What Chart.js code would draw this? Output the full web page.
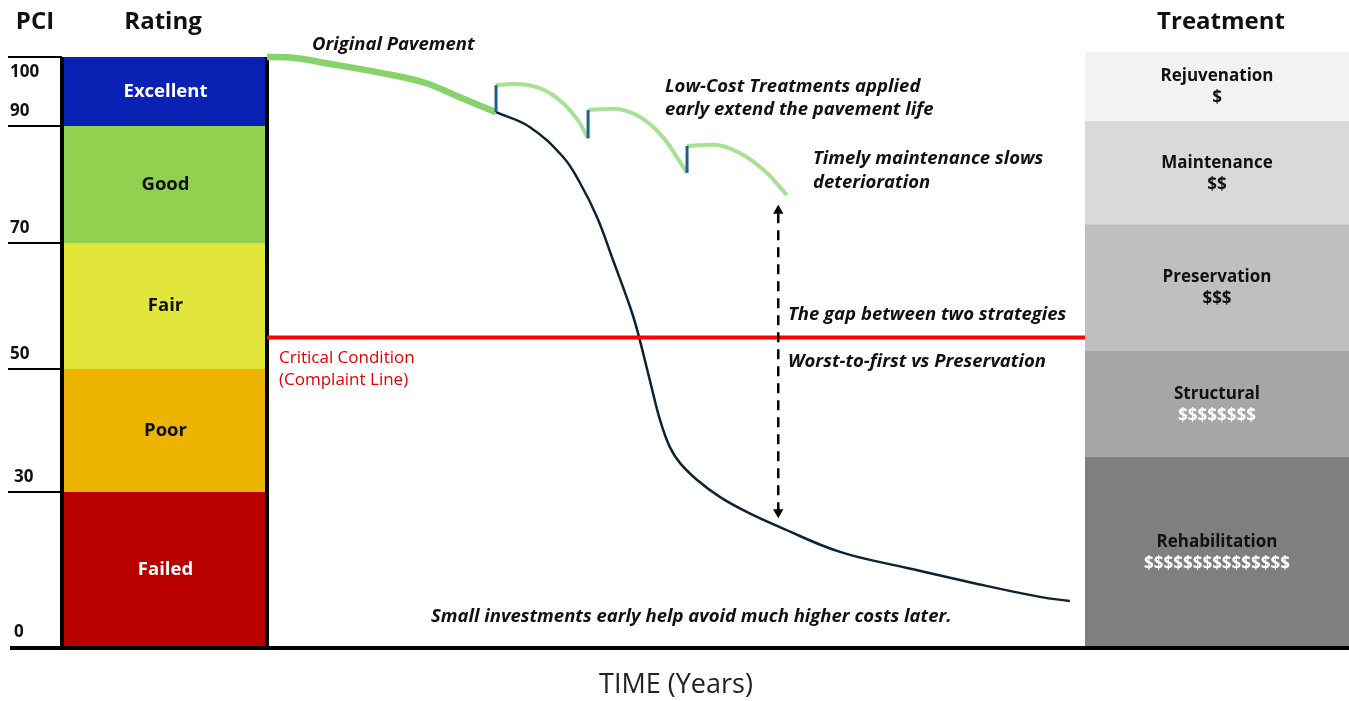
<!DOCTYPE html>
<html>
<head>
<meta charset="utf-8">
<title>Pavement condition over time</title>
<script src="https://cdn.jsdelivr.net/npm/chart.js@4.4.1/dist/chart.umd.min.js"></script>
<style>
    html, body { margin: 0; padding: 0; background: #fff; }
    #wrap { width: 1349px; height: 701px; }
</style>
</head>
<body>
<div id="wrap"><canvas id="pci-chart" width="1349" height="701"></canvas></div>
<script>
"use strict";

// ---- data -------------------------------------------------------------

// PCI rating bands: band i runs from ratingStops[i] down to ratingStops[i + 1]
var ratingStops = [100, 90, 70, 50, 30, 0];
var pciTickLabels = ["100", "90", "70", "50", "30", "0"];
var ratingNames = ["Excellent", "Good", "Fair", "Poor", "Failed"];

// treatment bands, same idea (PCI value at each boundary)
var treatmentStops = [100, 90.7, 73.2, 52.9, 35.7, 0];
var treatmentNames = ["Rejuvenation", "Maintenance", "Preservation", "Structural", "Rehabilitation"];
var treatmentCosts = ["$", "$$", "$$$", "$$$$$$$$", "$$$$$$$$$$$$$$$"];

var criticalPci = 55;

// original pavement, years vs PCI
var pavementYears = [0, 0.65, 1.45, 2.7, 3.9, 4.7, 5.6];
var pavementPci = [100, 99.9, 99.1, 97.8, 96.2, 94.2, 92.0];

// worst-first: no treatment after the original pavement
var worstYears = [5.6, 6.43, 7.24, 7.65, 8.07, 8.46, 8.88, 9.05, 9.36, 9.61, 9.85, 10.1, 10.51, 11.08, 11.74, 12.54, 14.01, 15.65, 17.26, 18.9, 19.63];
var worstPci = [92.0, 89.8, 84.7, 80.3, 74.4, 67.3, 59.8, 56.2, 48.2, 41.7, 37.3, 34.7, 32.0, 29.0, 26.1, 23.2, 18.4, 15.3, 12.4, 9.7, 8.9];

// low-cost treatment cycles
var treat1Years = [5.6, 6.01, 6.67, 7.24, 7.65, 7.85];
var treat1Pci = [95.9, 96.1, 95.5, 93.3, 90.4, 87.9];
var treat2Years = [7.85, 8.46, 9.12, 9.68, 10.27];
var treat2Pci = [92.3, 92.5, 91.3, 88.1, 82.0];
var treat3Years = [10.27, 10.9, 11.56, 12.22, 12.71];
var treat3Pci = [86.6, 86.8, 85.4, 82.0, 78.2];

// the gap arrow between the two strategies
var gapYears = [12.5, 12.5];
var gapPci = [26.1, 75.5];

// ---- layout -----------------------------------------------------------

// the PCI axis is not linear in the drawing: pixel height of each 0-30, 30-50 ... band
var scaleBreaks = [0, 30, 50, 70, 90, 100];
var scaleWeights = [155, 123, 126, 117, 69];

var FONT = '"Open Sans", "Noto Sans", sans-serif';

class PciScale extends Chart.LinearScale {
    getPixelForValue(value) {
        if (value === null || value === undefined || isNaN(value)) return NaN;
        var total = scaleWeights.reduce(function (a, b) { return a + b; }, 0);
        var acc = 0;
        for (var i = 0; i < scaleWeights.length; i++) {
            if (value <= scaleBreaks[i + 1] || i === scaleWeights.length - 1) {
                var t = (value - scaleBreaks[i]) / (scaleBreaks[i + 1] - scaleBreaks[i]);
                return this.getPixelForDecimal((acc + t * scaleWeights[i]) / total);
            }
            acc += scaleWeights[i];
        }
        return NaN;
    }
    getValueForPixel(pixel) {
        var total = scaleWeights.reduce(function (a, b) { return a + b; }, 0);
        var d = this.getDecimalForPixel(pixel) * total;
        var acc = 0;
        for (var i = 0; i < scaleWeights.length; i++) {
            if (d <= acc + scaleWeights[i] || i === scaleWeights.length - 1) {
                var t = (d - acc) / scaleWeights[i];
                return scaleBreaks[i] + t * (scaleBreaks[i + 1] - scaleBreaks[i]);
            }
            acc += scaleWeights[i];
        }
        return NaN;
    }
}
PciScale.id = "pci";
PciScale.defaults = {};
Chart.register(PciScale);

function points(xs, ys) {
    return xs.map(function (x, i) { return { x: x, y: ys[i] }; });
}

// vertical blue mark where a treatment lifts the PCI
function liftMark(prevPci, nextYears, nextPci) {
    return [
        { x: nextYears[0], y: prevPci[prevPci.length - 1] },
        { x: nextYears[0], y: nextPci[0] }
    ];
}

function line(data, color, width, extra) {
    var ds = {
        data: data,
        borderColor: color,
        borderWidth: width,
        pointRadius: 0,
        cubicInterpolationMode: "monotone",
        fill: false,
        clip: false
    };
    return Object.assign(ds, extra || {});
}

function text(ctx, str, x, y, font, color, align) {
    ctx.font = font;
    ctx.fillStyle = color;
    ctx.textAlign = align || "left";
    ctx.textBaseline = "middle";
    ctx.fillText(str, x, y);
}

function hline(ctx, x1, x2, y, w) {
    ctx.beginPath();
    ctx.lineWidth = w;
    ctx.strokeStyle = "#000";
    ctx.moveTo(x1, y);
    ctx.lineTo(x2, y);
    ctx.stroke();
}

var ratingColors = ["#0a22b4", "#92d050", "#e2e63a", "#ecb400", "#b80000"];
var ratingText = ["#fff", "#111", "#111", "#111", "#fff"];
var treatmentColors = ["#f2f2f2", "#d9d9d9", "#bfbfbf", "#a6a6a6", "#7f7f7f"];
var costText = ["#111", "#111", "#111", "#fff", "#fff"];

var panels = {
    id: "panels",
    beforeDatasetsDraw: function (chart) {
        var ctx = chart.ctx, area = chart.chartArea, y = chart.scales.y;
        var rl = 62, rr = 267, tl = area.right, tr = chart.width;
        ctx.save();

        // rating column
        for (var i = 0; i < ratingNames.length; i++) {
            var top = y.getPixelForValue(ratingStops[i]);
            var bot = y.getPixelForValue(ratingStops[i + 1]);
            ctx.fillStyle = ratingColors[i];
            ctx.fillRect(rl, top, rr - rl, bot - top);
            text(ctx, ratingNames[i], (rl + rr) / 2 + 1, (top + bot) / 2,
                "700 18.5px " + FONT, ratingText[i], "center");
        }

        // PCI ticks on the far left
        ratingStops.forEach(function (v, i) {
            var py = y.getPixelForValue(v);
            if (v > 0) hline(ctx, 8, rl, py, 2);
            var ty = v === 100 ? py + 15 : py - 15;
            text(ctx, pciTickLabels[i], v < 40 ? 14 : 10, ty, "700 17px " + FONT, "#111");
        });

        // treatment column
        for (var j = 0; j < treatmentNames.length; j++) {
            var t0 = y.getPixelForValue(treatmentStops[j]) - (j === 0 ? 5 : 0);
            var t1 = y.getPixelForValue(treatmentStops[j + 1]);
            var cx = (tl + tr) / 2, cy = (t0 + t1) / 2;
            ctx.fillStyle = treatmentColors[j];
            ctx.fillRect(tl, t0, tr - tl, t1 - t0);
            text(ctx, treatmentNames[j], cx, cy - 10, "700 17px " + FONT, "#111", "center");
            text(ctx, treatmentCosts[j], cx, cy + 12, "700 17px " + FONT, costText[j], "center");
        }

        // frame lines
        ctx.fillStyle = "#000";
        ctx.fillRect(rl - 2, area.top, 4, area.bottom - area.top);
        ctx.fillRect(rr - 2, area.top, 4, area.bottom - area.top);
        hline(ctx, 10, tr, area.bottom + 1, 4);

        // headings
        text(ctx, "PCI", 35, 22, "700 24px " + FONT, "#111", "center");
        text(ctx, "Rating", 163, 22, "700 24px " + FONT, "#111", "center");
        text(ctx, "Treatment", 1221, 22, "700 24px " + FONT, "#111", "center");
        text(ctx, "TIME (Years)", 676, 685, "400 27px " + FONT, "#222", "center");

        ctx.restore();
    },
    afterDatasetsDraw: function (chart) {
        var ctx = chart.ctx;
        var note = "italic 700 18.5px " + FONT;
        ctx.save();
        text(ctx, "Original Pavement", 312, 45, note, "#111");
        text(ctx, "Low-Cost Treatments applied", 665, 87, note, "#111");
        text(ctx, "early extend the pavement life", 665, 110, note, "#111");
        text(ctx, "Timely maintenance slows", 813, 159, note, "#111");
        text(ctx, "deterioration", 813, 183, note, "#111");
        text(ctx, "The gap between two strategies", 788, 315, note, "#111");
        text(ctx, "Worst-to-first vs Preservation", 788, 362, note, "#111");
        text(ctx, "Small investments early help avoid much higher costs later.", 431, 617, note, "#111");
        text(ctx, "Critical Condition", 279, 358, "400 17px " + FONT, "#e30000");
        text(ctx, "(Complaint Line)", 279, 380, "400 17px " + FONT, "#e30000");
        ctx.restore();
    }
};

var tickColor = "#1f5f8c";

new Chart(document.getElementById("pci-chart").getContext("2d"), {
    type: "line",
    data: {
        datasets: [
            line(points(gapYears, gapPci), "#000", 2.5, {
                borderDash: [10, 7],
                cubicInterpolationMode: "default",
                pointRadius: 6,
                pointStyle: "triangle",
                pointRotation: [180, 0],
                pointBackgroundColor: "#000",
                pointBorderWidth: 0
            }),
            line(liftMark(pavementPci, treat1Years, treat1Pci), tickColor, 3),
            line(liftMark(treat1Pci, treat2Years, treat2Pci), tickColor, 3),
            line(liftMark(treat2Pci, treat3Years, treat3Pci), tickColor, 3),
            line(points(pavementYears, pavementPci), "#86d36a", 6.5),
            line(points(treat1Years, treat1Pci), "#a8e195", 4),
            line(points(treat2Years, treat2Pci), "#a8e195", 4),
            line(points(treat3Years, treat3Pci), "#a8e195", 4),
            line([{ x: 0, y: criticalPci }, { x: 20, y: criticalPci }], "#ff0000", 4),
            line(points(worstYears, worstPci), "#0d2235", 2.5, {
                cubicInterpolationMode: "default",
                tension: 0.4
            })
        ]
    },
    options: {
        responsive: false,
        devicePixelRatio: 1,
        animation: false,
        events: [],
        layout: { padding: { left: 267, right: 264, top: 57, bottom: 54 } },
        plugins: {
            legend: { display: false },
            tooltip: { enabled: false }
        },
        scales: {
            x: { type: "linear", min: 0, max: 20, display: false },
            y: { type: "pci", min: 0, max: 100, display: false }
        }
    },
    plugins: [panels]
});
</script>
</body>
</html>
